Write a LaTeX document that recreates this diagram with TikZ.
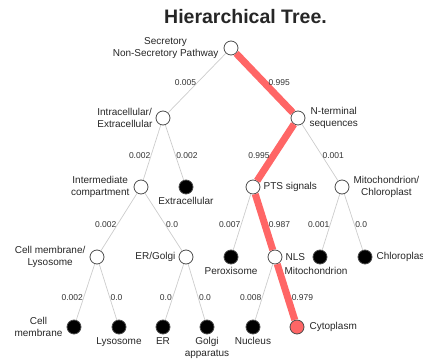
\documentclass[tikz,border=0pt]{standalone}
\usepackage{fontspec}
\setmainfont{Liberation Sans}
\usetikzlibrary{positioning}
\definecolor{hitred}{HTML}{FF6666}

\begin{document}
\begin{tikzpicture}[x=1pt,y=-1pt,
		every node/.style={font=\fontsize{10}{11.5}\selectfont,text=black!85},
		inner/.style={circle,draw=black!70,fill=white,minimum size=14pt,
			inner sep=0pt,line width=0.8pt},
		leaf/.style={inner,fill=black},
		hit/.style={inner,fill=hitred},
		tag/.style={align=center,inner sep=0pt},
		edge/.style={draw=black!20,line width=0.7pt},
		best/.style={draw=hitred,line width=7pt},
		prob/.style={font=\fontsize{8.5}{10}\selectfont,text=black!80,
			inner sep=0.5pt,pos=0.55}]
		\useasboundingbox (0,0) rectangle (423,361);
		\node (title) at (245.5,17) {\fontsize{19.5}{21}\selectfont\bfseries
			Hierarchical Tree.};

		% create the nodes
		\node (root) [inner] at (231,48) {};
		\node (intext) [inner] at (163,118) {};
		\node (nterm) [inner] at (298,118) {};
		\node (interm) [inner] at (141,187) {};
		\node (extra) [leaf] at (186,187) {};
		\node (pts) [inner] at (253,187) {};
		\node (mitochl) [inner] at (342,187) {};
		\node (cellys) [inner] at (97,257) {};
		\node (ergolgi) [inner] at (186,257) {};
		\node (perox) [leaf] at (231,257) {};
		\node (nls) [inner] at (275,257) {};
		\node (mito) [leaf] at (320,257) {};
		\node (chloro) [leaf] at (365,257) {};
		\node (cellmem) [leaf] at (74,327) {};
		\node (lyso) [leaf] at (119,327) {};
		\node (er) [leaf] at (163,327) {};
		\node (golgi) [leaf] at (207,327) {};
		\node (nucleus) [leaf] at (253,327) {};
		\node (cyto) [hit] at (297,327) {};

		% node texts
		\node (roottxt) [tag,left=5pt of root] {Secretory\\
			Non-Secretory Pathway};
		\node (intexttxt) [tag,align=left,left=3pt of intext] {Intracellular/\\
			Extracellular};
		\node (ntermtxt) [tag,right=4pt of nterm] {N-terminal\\sequences};
		\node (intermtxt) [tag,left=4pt of interm] {Intermediate\\compartment};
		\node (extratxt) [tag,below=3pt of extra] {Extracellular};
		\node (ptstxt) [tag,right=3pt of pts] {PTS signals};
		\node (mitochltxt) [tag,right=4pt of mitochl] {Mitochondrion/\\
			Chloroplast};
		\node (cellystxt) [tag,left=4pt of cellys] {Cell membrane/\\Lysosome};
		\node (ergolgitxt) [tag,left=3pt of ergolgi] {ER/Golgi};
		\node (peroxtxt) [tag,below=3pt of perox] {Peroxisome};
		\node (nlstxt) [tag,right=3pt of nls] {NLS};
		\node (mitotxt) [tag,below=3pt of mito,xshift=-4pt] {Mitochondrion};
		\node (chlorotxt) [tag,right=4pt of chloro] {Chloroplast};
		\node (cellmemtxt) [tag,left=4pt of cellmem] {Cell\\membrane};
		\node (lysotxt) [tag,below=3pt of lyso] {Lysosome};
		\node (ertxt) [tag,below=3pt of er] {ER};
		\node (golgitxt) [tag,below=3pt of golgi] {Golgi\\apparatus};
		\node (nucleustxt) [tag,below=3pt of nucleus] {Nucleus};
		\node (cytotxt) [tag,right=5pt of cyto] {Cytoplasm};

		% connect the nodes
		\draw[edge] (root) -- node[prob,pos=0.5,left] {0.005} (intext);
		\draw[best] (root) -- node[prob,pos=0.5,right] {0.995} (nterm);
		\draw[edge] (intext) -- node[prob,left] {0.002} (interm);
		\draw[edge] (intext) -- node[prob,right] {0.002} (extra);
		\draw[best] (nterm) -- node[prob,left] {0.995} (pts);
		\draw[edge] (nterm) -- node[prob,right] {0.001} (mitochl);
		\draw[edge] (interm) -- node[prob,left] {0.002} (cellys);
		\draw[edge] (interm) -- node[prob,right] {0.0} (ergolgi);
		\draw[edge] (pts) -- node[prob,left] {0.007} (perox);
		\draw[best] (pts) -- node[prob,right] {0.987} (nls);
		\draw[edge] (mitochl) -- node[prob,left] {0.001} (mito);
		\draw[edge] (mitochl) -- node[prob,right] {0.0} (chloro);
		\draw[edge] (cellys) -- node[prob,pos=0.6,left] {0.002} (cellmem);
		\draw[edge] (cellys) -- node[prob,pos=0.6,right] {0.0} (lyso);
		\draw[edge] (ergolgi) -- node[prob,pos=0.6,left] {0.0} (er);
		\draw[edge] (ergolgi) -- node[prob,pos=0.6,right] {0.0} (golgi);
		\draw[edge] (nls) -- node[prob,pos=0.6,left] {0.008} (nucleus);
		\draw[best] (nls) -- node[prob,pos=0.6,right] {0.979} (cyto);

	\end{tikzpicture}
\end{document}
